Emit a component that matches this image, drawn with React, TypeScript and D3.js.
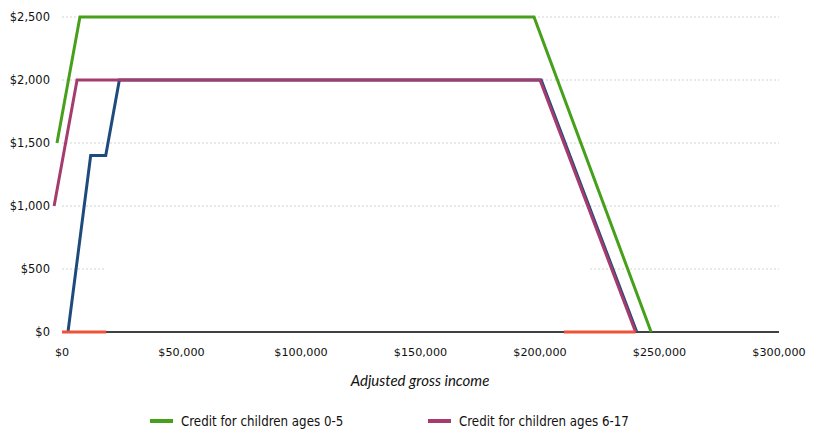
import React from "react";
import * as d3 from "d3";

const W = 815;
const H = 442;

const xTicks = [0, 50000, 100000, 150000, 200000, 250000, 300000];
const yTicks = [0, 500, 1000, 1500, 2000, 2500];

const greenIncome = [-2100, 7500, 197500, 246500];
const greenCredit = [1500, 2500, 2500, 0];
const pinkIncome = [-3300, 6300, 200000, 240000];
const pinkCredit = [1000, 2000, 2000, 0];
const blueIncome = [2500, 12000, 18300, 24000, 200500, 240500];
const blueCredit = [0, 1400, 1400, 2000, 2000, 0];
const redIncome = [0, 18500, 18500, 210000, 240000];
const redCredit: (number | null)[] = [0, 0, null, 0, 0];

const legendLabels = ["Credit for children ages 0-5", "Credit for children ages 6-17"];
const colors = { green: "#46a01b", pink: "#a63b6e", blue: "#1f4b7c", red: "#ee5339" };

type P = [number, number | null];
const zip = (xs: number[], ys: (number | null)[]): P[] => xs.map((x, i) => [x, ys[i]]);

export default function App() {
  const x = d3.scaleLinear().domain([0, 300000]).range([62, 779]);
  const y = d3.scaleLinear().domain([0, 2500]).range([332, 17]);
  const line = d3
    .line<P>()
    .defined((d) => d[1] !== null)
    .x((d) => x(d[0]))
    .y((d) => y(d[1] as number));
  const fmt = (v: number) => "$" + d3.format(",")(v);
  const font = "'DejaVu Sans', Verdana, sans-serif";

  return (
    <div style={{ position: "fixed", left: 0, top: 0 }}>
      <svg width={W} height={H} style={{ display: "block", background: "#fff" }}>
        {yTicks.filter((t) => t > 0).map((t) => (
          <line key={t} x1={x(0)} x2={x(300000)} y1={y(t)} y2={y(t)} stroke="#d2d2d2" strokeWidth={1} strokeDasharray="2,2" />
        ))}
        <rect x={x(18500)} y={y(500) - 2} width={x(221000) - x(18500)} height={4} fill="#fff" />
        <line x1={x(0)} x2={x(300000)} y1={y(0)} y2={y(0)} stroke="#000" strokeWidth={1.5} />
        {yTicks.map((t) => (
          <text key={t} x={50} y={y(t)} dy="0.36em" textAnchor="end" fontFamily={font} fontSize={11.5} fill="#111">
            {fmt(t)}
          </text>
        ))}
        {xTicks.map((t) => (
          <text key={t} x={x(t)} y={352} dy="0.36em" textAnchor="middle" fontFamily={font} fontSize={11.2} fill="#111">
            {fmt(t)}
          </text>
        ))}
        <text x={420} y={381} dy="0.36em" textAnchor="middle" fontFamily="Lato, sans-serif" fontStyle="italic" fontSize={15} fill="#111">
          Adjusted gross income
        </text>
        <path d={line(zip(greenIncome, greenCredit)) || ""} fill="none" stroke={colors.green} strokeWidth={3} strokeLinejoin="miter" />
        <path d={line(zip(blueIncome, blueCredit)) || ""} fill="none" stroke={colors.blue} strokeWidth={3} />
        <path d={line(zip(pinkIncome, pinkCredit)) || ""} fill="none" stroke={colors.pink} strokeWidth={3} />
        <path d={line(zip(redIncome, redCredit)) || ""} fill="none" stroke={colors.red} strokeWidth={3} />
        {legendLabels.map((l, i) => (
          <g key={l} transform={`translate(${i === 0 ? 150 : 428},421)`}>
            <line x1={0} x2={23} y1={0} y2={0} stroke={i === 0 ? colors.green : colors.pink} strokeWidth={4} />
            <text x={31} y={0} dy="0.34em" fontFamily="'DejaVu Sans Condensed', 'Liberation Sans', sans-serif" fontSize={13.2} fill="#111">
              {l}
            </text>
          </g>
        ))}
      </svg>
    </div>
  );
}
